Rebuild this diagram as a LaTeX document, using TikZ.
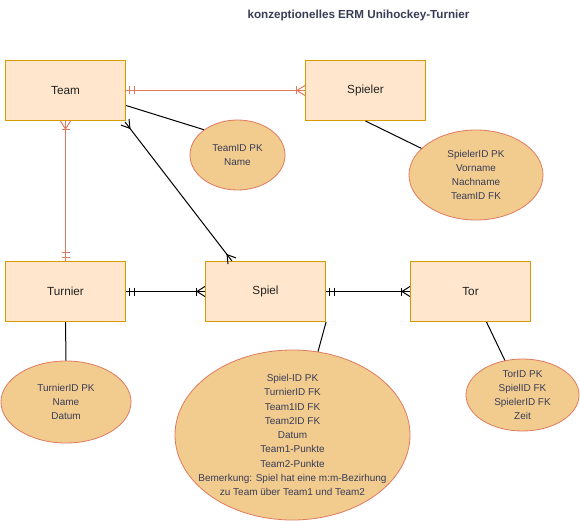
\documentclass[tikz,border=0pt]{standalone}
\usepackage{fontspec}
\setmainfont{Liberation Sans}
\usetikzlibrary{shapes.geometric,calc}
\definecolor{boxfill}{HTML}{FFE6CC}
\definecolor{boxdraw}{HTML}{D79B00}
\definecolor{attrfill}{HTML}{F2CC8F}
\definecolor{attrdraw}{HTML}{E07A5F}
\definecolor{attrtext}{HTML}{393C56}
\definecolor{enttext}{HTML}{222222}
\begin{document}
\begin{tikzpicture}[x=1bp,y=-1bp,
  entity/.style={draw=boxdraw, fill=boxfill, line width=1.1bp, minimum width=120bp, minimum height=60bp, inner sep=0pt, font=\fontsize{11.8}{13}\selectfont, text=enttext},
  attr/.style={ellipse, draw=attrdraw, fill=attrfill, line width=0.8bp, inner sep=0pt},
  attrlbl/.style={font=\fontsize{10}{14.3}\selectfont, text=attrtext, align=center},
  rel/.style={line width=1bp, color=black},
  orel/.style={line width=1bp, color=attrdraw},
  mandone/.pic={\draw (3,-4)--(3,4) (8,-4)--(8,4);},
  onemany/.pic={\draw (0,-5)--(8,0)--(0,5); \draw (8,-4)--(8,4);},
  many/.pic={\draw (0,-5)--(8,0)--(0,5);}
]
\useasboundingbox (0,0) rectangle (580,521);

\node[font=\bfseries\fontsize{11.7}{14}\selectfont, text=attrtext] (title) at (358.5,15) {konzeptionelles ERM Unihockey-Turnier};

\node[entity] (team) at (65.5,90.5) {Team};
\node[entity] (spieler) at (365.5,90.5) {Spieler};
\node[entity] (turnier) at (65.5,291.5) {Turnier};
\node[entity] (spiel) at (265.5,291.5) {Spiel};
\node[entity] (tor) at (470.5,291.5) {Tor};

\node[attr, minimum width=95bp, minimum height=70bp, label={[attrlbl]center:{TeamID PK\\Name}}] (teamattr) at (237.5,155) {};
\node[attr, minimum width=134bp, minimum height=90bp, label={[attrlbl]center:{SpielerID PK\\Vorname\\Nachname\\TeamID FK}}] (spielerattr) at (476,175) {};
\node[attr, minimum width=130bp, minimum height=82bp, label={[attrlbl]center:{TurnierID PK\\Name\\Datum}}] (turnierattr) at (66,402) {};
\node[attr, minimum width=235bp, minimum height=170bp, label={[attrlbl]center:{Spiel-ID PK\\TurnierID FK\\Team1ID FK\\Team2ID FK\\Datum\\Team1-Punkte\\Team2-Punkte\\Bemerkung: Spiel hat eine m:m-Bezirhung\\zu Team über Team1 und Team2}}] (spielattr) at (292.5,435) {};
\node[attr, minimum width=113bp, minimum height=72bp, label={[attrlbl]center:{TorID PK\\SpielID FK\\SpielerID FK\\Zeit}}] (torattr) at (522.5,395) {};

% attribute links
\draw[rel] ($(team.east)+(0,15)$) -- (teamattr.143);
\draw[rel] (spieler.south) -- (spielerattr.154);
\draw[rel] (turnier.south) -- (turnierattr.north);
\draw[rel] (spiel.south east) -- (spielattr.73);
\draw[rel] ($(tor.south)+(16,0)$) -- (torattr.117);

% Team - Spieler
\draw[orel] (team.east) -- (spieler.west);
\pic[orel] at (team.east) {mandone};
\pic[orel, rotate=180] at (spieler.west) {onemany};

% Team - Turnier
\draw[orel] (team.south) -- (turnier.north);
\pic[orel, rotate=-90] at (team.south) {onemany};
\pic[orel, rotate=90] at (turnier.north) {mandone};

% Team - Spiel
\coordinate (ts1) at ($(team.south east)+(-1,1)$);
\coordinate (ts2) at ($(spiel.north west)+(27,0)$);
\draw[rel] (ts1) -- (ts2);
\pic[rel, rotate=-52.2] at (ts1) {many};
\pic[rel, rotate=127.8] at (ts2) {many};

% Turnier - Spiel
\draw[rel] (turnier.east) -- (spiel.west);
\pic[rel] at (turnier.east) {mandone};
\pic[rel, rotate=180] at (spiel.west) {onemany};

% Spiel - Tor
\draw[rel] (spiel.east) -- (tor.west);
\pic[rel] at (spiel.east) {mandone};
\pic[rel, rotate=180] at (tor.west) {onemany};
\end{tikzpicture}
\end{document}
